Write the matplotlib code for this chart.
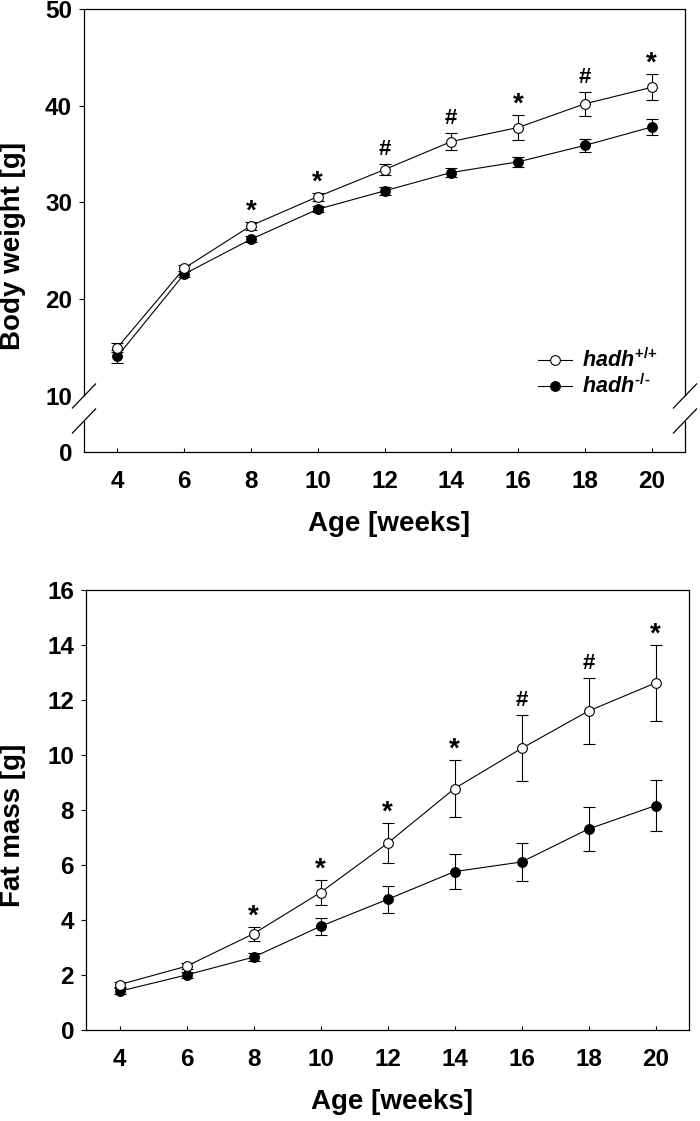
import numpy as np
import matplotlib
matplotlib.use('Agg')
import matplotlib.pyplot as plt

plt.rcParams['font.family'] = ['Liberation Sans', 'DejaVu Sans']
plt.rcParams['font.weight'] = 'bold'
plt.rcParams['mathtext.fontset'] = 'custom'
plt.rcParams['mathtext.rm'] = 'Liberation Sans:bold'
plt.rcParams['mathtext.it'] = 'Liberation Sans:italic:bold'
plt.rcParams['mathtext.bf'] = 'Liberation Sans:bold'

#------------------------ data ------------------------

weeks = [4, 6, 8, 10, 12, 14, 16, 18, 20]

# body weight [g]
bw_wt = [15.0, 23.2, 27.6, 30.6, 33.4, 36.3, 37.75, 40.2, 41.9]
bw_wt_err = [0.5, 0.3, 0.4, 0.4, 0.6, 0.9, 1.3, 1.25, 1.35]
bw_ko = [14.1, 22.6, 26.2, 29.3, 31.2, 33.1, 34.2, 35.9, 37.8]
bw_ko_err = [0.7, 0.3, 0.3, 0.3, 0.4, 0.5, 0.5, 0.65, 0.8]
bw_marks = ['', '', '*', '*', '#', '#', '*', '#', '*']

# fat mass [g]
fm_wt = [1.65, 2.32, 3.5, 5.0, 6.79, 8.78, 10.24, 11.6, 12.62]
fm_wt_err = [0.1, 0.1, 0.25, 0.45, 0.72, 1.03, 1.2, 1.2, 1.37]
fm_ko = [1.41, 2.0, 2.65, 3.77, 4.75, 5.76, 6.11, 7.31, 8.16]
fm_ko_err = [0.1, 0.1, 0.15, 0.3, 0.5, 0.64, 0.7, 0.79, 0.92]
fm_marks = ['', '', '*', '*', '*', '*', '#', '#', '*']

bw_ticks = [0, 10, 20, 30, 40, 50]
fm_ticks = [0, 2, 4, 6, 8, 10, 12, 14, 16]

label_wt = r'$hadh^{\text{+/+}}$'
label_ko = r'$hadh^{\text{-/-}}$'

# compressed part of the body weight axis (0..10)
BREAK = 10
SQUEEZE = 0.579


def fwd(y):
    y = np.asarray(y, dtype=float)
    return np.where(y >= BREAK, y, BREAK - (BREAK - y) * SQUEEZE)


def inv(z):
    z = np.asarray(z, dtype=float)
    return np.where(z >= BREAK, z, BREAK - (BREAK - z) / SQUEEZE)


#------------------- Plotting ---------------
W, H = 700, 1121
fig = plt.figure(figsize=(W / 100, H / 100), dpi=100)
ax1 = fig.add_axes([84 / W, 1 - 452 / H, 601 / W, 443 / H])
ax2 = fig.add_axes([86 / W, 1 - 1030 / H, 603 / W, 440 / H])

lw = 0.8
style = dict(color='k', lw=lw, elinewidth=lw, capsize=4, capthick=lw,
             ms=7, mew=lw, mec='k')


def draw(ax, wt, wt_err, ko, ko_err, marks):
    ko_c = ax.errorbar(weeks, ko, yerr=ko_err, fmt='-o', mfc='k', zorder=3, **style)
    wt_c = ax.errorbar(weeks, wt, yerr=wt_err, fmt='-o', mfc='white', zorder=4, **style)
    for x, y, e, m in zip(weeks, wt, wt_err, marks):
        if not m:
            continue
        if m == '*':
            ax.annotate(m, xy=(x, y + e), xytext=(0, 2.5), textcoords='offset points',
                        ha='center', va='baseline', fontsize=20)
        else:
            ax.annotate(m, xy=(x, y + e), xytext=(0, 6.5), textcoords='offset points',
                        ha='center', va='baseline', fontsize=16)
    ax.set_xlim(3, 21)
    ax.set_xticks(weeks)
    ax.tick_params(axis='x', direction='in', length=3.2, width=lw, pad=13, labelsize=17.5)
    ax.tick_params(axis='y', direction='out', length=3.6, width=lw, pad=5, labelsize=17.5)
    for s in ax.spines.values():
        s.set_linewidth(0.9)
    ax.set_xlabel('Age [weeks]', fontsize=20, fontweight='bold')
    ax.xaxis.set_label_coords(0.508, -0.133)
    return wt_c, ko_c


# top: body weight
wt_c, ko_c = draw(ax1, bw_wt, bw_wt_err, bw_ko, bw_ko_err, bw_marks)
ax1.set_yscale('function', functions=(fwd, inv))
ax1.set_ylim(0, 50)
ax1.set_yticks(bw_ticks)
for t in ax1.yaxis.get_major_ticks()[:2]:
    t.tick1line.set_visible(False)
ax1.set_ylabel('Body weight [g]', fontsize=20, fontweight='bold')
ax1.yaxis.set_label_coords(-0.0965, 0.466)

ax1.legend([wt_c[0], ko_c[0]], [label_wt, label_ko], loc='center left',
           bbox_to_anchor=(0.755, 0.177), frameon=False, fontsize=15.5,
           handlelength=1.6, handletextpad=0.45, labelspacing=0.12,
           borderpad=0, borderaxespad=0)

# axis break marks on both sides
ax1.spines['left'].set_visible(False)
ax1.spines['right'].set_visible(False)
fig.canvas.draw()
y_hi = ax1.transAxes.inverted().transform(ax1.transData.transform((4, BREAK)))[1]
ax_w = 601.0
ax_h = 443.0
y_lo = y_hi - 25 / ax_h
dx, dy = 12 / ax_w, 12.5 / ax_h
kw = dict(transform=ax1.transAxes, color='k', lw=0.9, clip_on=False,
          solid_capstyle='butt')
for x0 in (0, 1):
    ax1.plot([x0, x0], [y_hi, 1], **kw)
    ax1.plot([x0, x0], [0, y_lo], **kw)
    for yc in (y_hi, y_lo):
        ax1.plot([x0 - dx, x0 + dx], [yc - dy, yc + dy], **kw)

# bottom: fat mass
draw(ax2, fm_wt, fm_wt_err, fm_ko, fm_ko_err, fm_marks)
ax2.set_ylim(0, 16)
ax2.set_yticks(fm_ticks)
ax2.set_ylabel('Fat mass [g]', fontsize=20, fontweight='bold')
ax2.yaxis.set_label_coords(-0.0995, 0.464)

fig.savefig('out.png', dpi=100)
